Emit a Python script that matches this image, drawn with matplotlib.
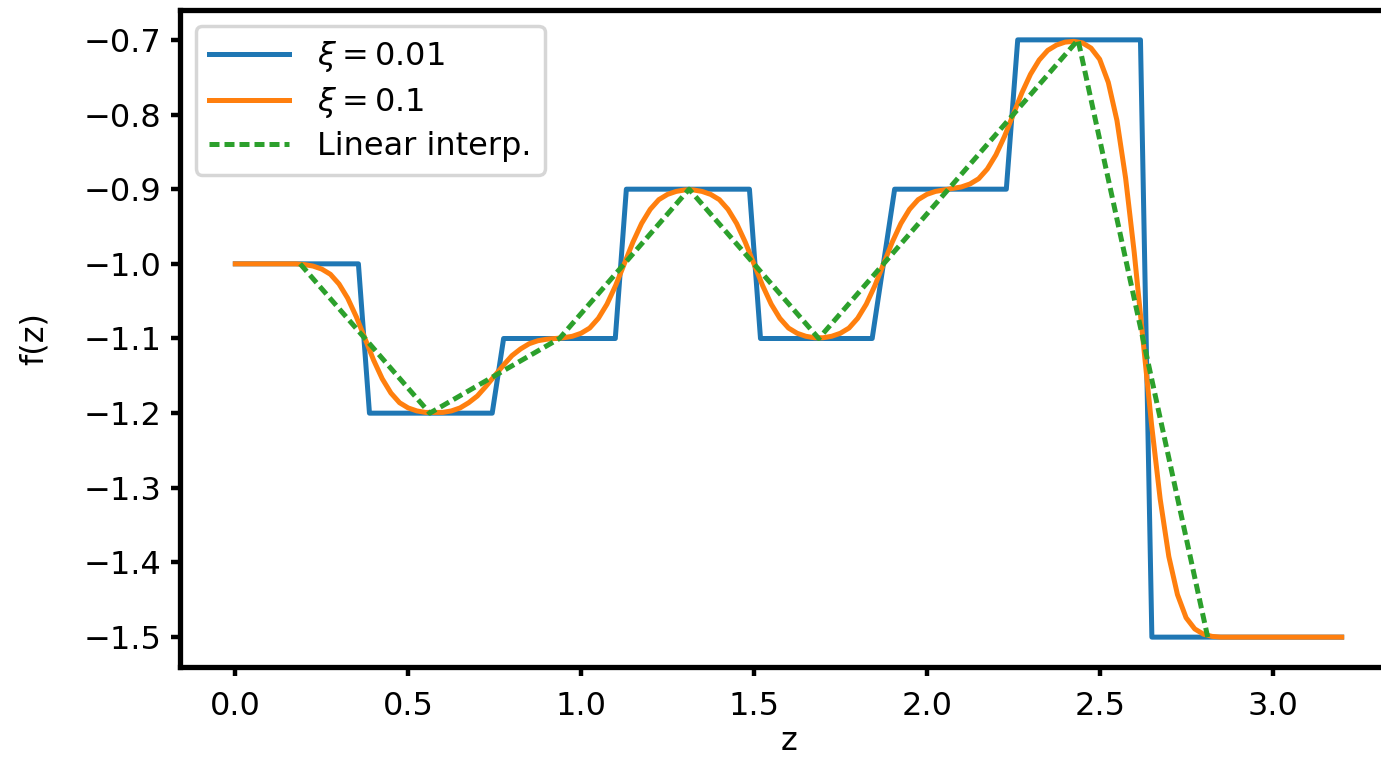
import numpy as np
import matplotlib
matplotlib.use('Agg')
import matplotlib.pyplot as plt

# Escalones (xi = 0.01): vertices
z_azul = [0.0, 0.356, 0.388, 0.743, 0.776, 1.099, 1.131, 1.487, 1.519,
          1.842, 1.907, 2.230, 2.263, 2.618, 2.651, 3.2]
f_azul = [-1.0, -1.0, -1.2, -1.2, -1.1, -1.1, -0.9, -0.9, -1.1,
          -1.1, -0.9, -0.9, -0.7, -0.7, -1.5, -1.5]

# Curva suavizada (xi = 0.1), muestreada cada 0.025 de 0 a 3.2
z_naranja = np.linspace(0.0, 3.2, 129)
f_naranja = [
    -1.000, -1.000, -1.000, -1.000, -1.000, -1.000, -1.000, -1.000,
    -1.001, -1.003, -1.007, -1.014, -1.027, -1.046, -1.071, -1.100,
    -1.129, -1.154, -1.173, -1.186, -1.193, -1.197, -1.199, -1.199,
    -1.199, -1.197, -1.193, -1.186, -1.177, -1.164, -1.150, -1.136,
    -1.123, -1.114, -1.107, -1.103, -1.101, -1.100, -1.099, -1.097,
    -1.093, -1.086, -1.073, -1.054, -1.029, -1.000, -0.971, -0.946,
    -0.927, -0.914, -0.907, -0.903, -0.901, -0.901, -0.903, -0.907,
    -0.914, -0.927, -0.946, -0.971, -1.000, -1.029, -1.054, -1.073,
    -1.086, -1.093, -1.097, -1.099, -1.099, -1.097, -1.093, -1.086,
    -1.073, -1.054, -1.029, -1.000, -0.971, -0.946, -0.927, -0.914,
    -0.907, -0.903, -0.901, -0.899, -0.897, -0.893, -0.886, -0.873,
    -0.854, -0.829, -0.800, -0.771, -0.746, -0.727, -0.714, -0.707,
    -0.703, -0.702, -0.704, -0.711, -0.726, -0.757, -0.808, -0.885,
    -0.985, -1.100, -1.215, -1.315, -1.392, -1.443, -1.474, -1.489,
    -1.496, -1.499, -1.500, -1.500, -1.500, -1.500, -1.500, -1.500,
    -1.500, -1.500, -1.500, -1.500, -1.500, -1.500, -1.500, -1.500,
    -1.500,
]

# Interpolacion lineal entre los nodos
z_nodos = [0.1875, 0.5625, 0.9375, 1.3125, 1.6875, 2.0625, 2.4375, 2.8125]
f_nodos = [-1.0, -1.2, -1.1, -0.9, -1.1, -0.9, -0.7, -1.5]

etiquetas = [r'$\xi = 0.01$', r'$\xi = 0.1$', 'Linear interp.']

fs = 23
fig = plt.figure(figsize=(13.81, 7.58), dpi=100)
ax = fig.add_axes([180 / 1381, 1 - 667 / 758, 1217 / 1381, 657 / 758])

lw = 3.6
ax.plot(z_azul, f_azul, color='#1f77b4', lw=lw, label=etiquetas[0])
ax.plot(z_naranja, f_naranja, color='#ff7f0e', lw=lw, label=etiquetas[1])
ax.plot(z_nodos, f_nodos, color='#2ca02c', lw=lw, dashes=(2.0, 1.0),
        label=etiquetas[2])

ax.set_xlim(-0.16, 3.36)
ax.set_ylim(-1.54, -0.66)
ax.set_xticks([0.0, 0.5, 1.0, 1.5, 2.0, 2.5, 3.0])
ax.set_yticks([-1.5, -1.4, -1.3, -1.2, -1.1, -1.0, -0.9, -0.8, -0.7])

for s in ax.spines.values():
    s.set_linewidth(3.8)
ax.tick_params(labelsize=fs, length=6.5, width=3.2, pad=7)
ax.tick_params(axis='x', pad=11)

ax.set_xlabel('z', fontsize=fs, labelpad=3)
ax.set_ylabel('f(z)', fontsize=fs, labelpad=24)

leg = ax.legend(loc='upper left', fontsize=fs, handlelength=2.5,
                handletextpad=0.9, borderaxespad=0.5, labelspacing=0.35)
leg.get_frame().set_linewidth(2.5)

fig.savefig('out.png', dpi=100)
